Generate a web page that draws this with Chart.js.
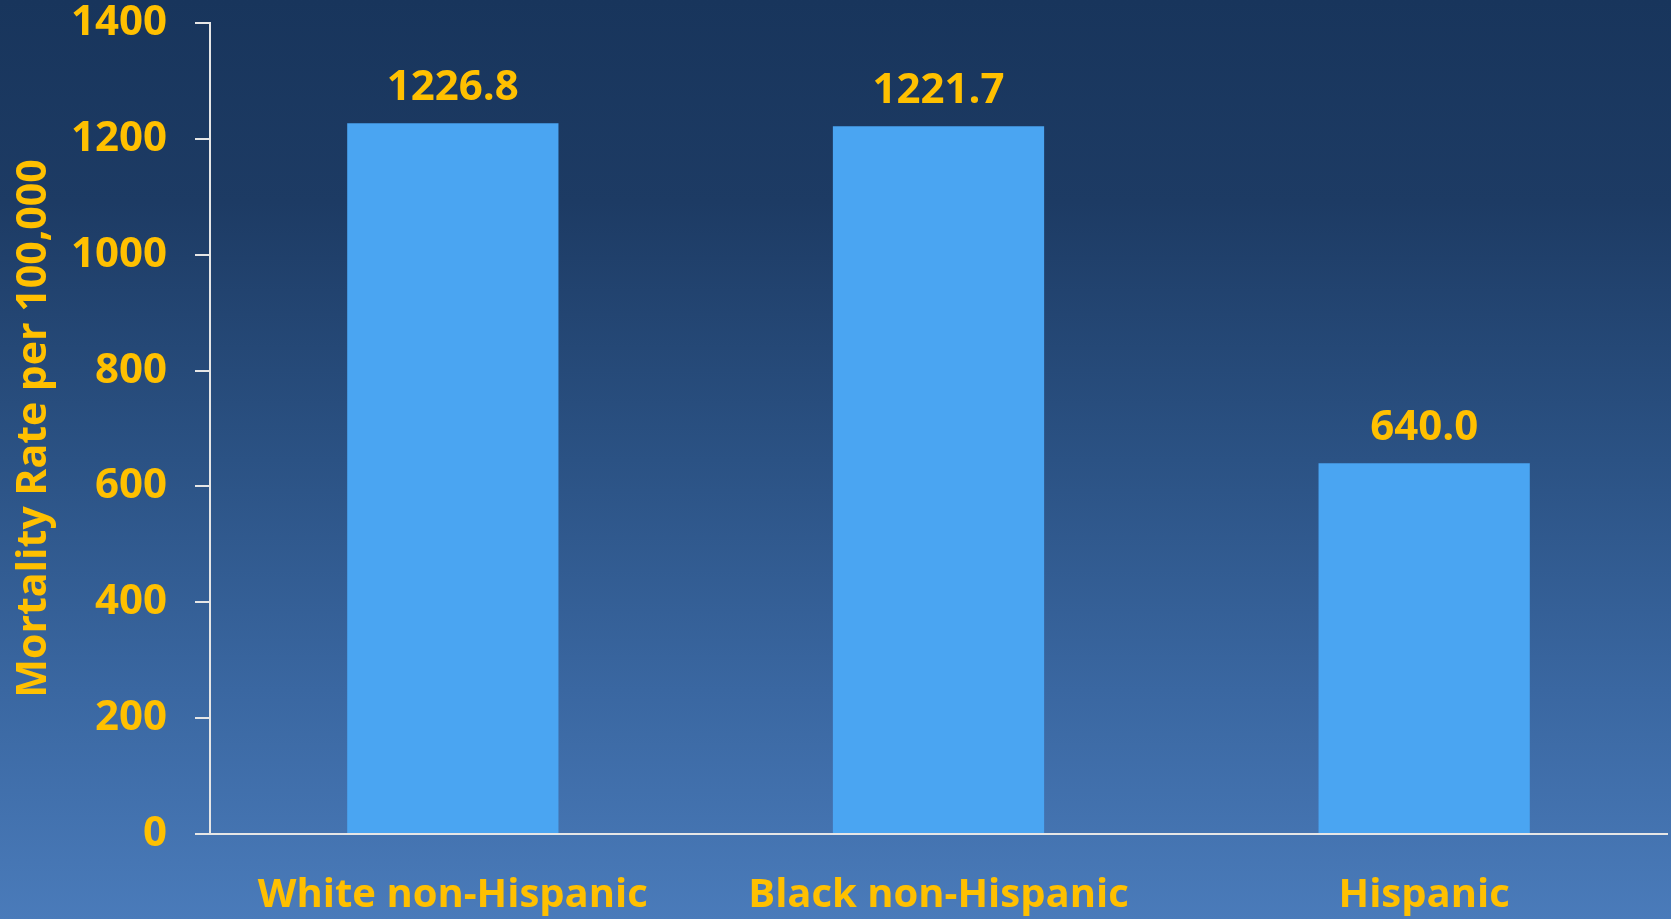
<!DOCTYPE html>
<html>
<head>
<meta charset="utf-8">
<script src="https://cdn.jsdelivr.net/npm/chart.js@4"></script>
<style>
  html, body {
    margin: 0;
    padding: 0;
    width: 1671px;
    height: 919px;
    overflow: hidden;
    background: linear-gradient(to bottom, #18355c 0%, #1d3b64 22%, #2b5284 50%, #3a67a1 75%, #4a7bba 100%);
  }
  #wrap { width: 1671px; height: 919px; position: relative; }
</style>
</head>
<body>
<div id="wrap"><canvas id="mortalityChart"></canvas></div>
<script>
const categories = ['White non-Hispanic', 'Black non-Hispanic', 'Hispanic'];
const mortalityRates = [1226.8, 1221.7, 640.0];
const yTicks = [0, 200, 400, 600, 800, 1000, 1200, 1400];

const gold = '#ffc000';
const fontFamily = '"Open Sans", "DejaVu Sans", sans-serif';

// draws the value above each bar
const valueLabels = {
    id: 'valueLabels',
    afterDatasetsDraw(chart) {
        const ctx = chart.ctx;
        const meta = chart.getDatasetMeta(0);
        ctx.save();
        ctx.fillStyle = gold;
        ctx.font = 'bold 42px ' + fontFamily;
        ctx.textAlign = 'center';
        ctx.textBaseline = 'alphabetic';
        meta.data.forEach(function (bar, i) {
            ctx.fillText(mortalityRates[i].toFixed(1), bar.x, bar.y - 23);
        });
        ctx.restore();
    }
};

document.addEventListener('DOMContentLoaded', function () {
    const ctx = document.getElementById('mortalityChart').getContext('2d');
    new Chart(ctx, {
        type: 'bar',
        data: {
            labels: categories,
            datasets: [
                {
                    label: 'Mortality Rate per 100,000',
                    data: mortalityRates,
                    backgroundColor: '#4aa5f2',
                    borderWidth: 0,
                    categoryPercentage: 1,
                    barPercentage: 0.435
                }
            ]
        },
        options: {
            responsive: true,
            maintainAspectRatio: false,
            animation: false,
            layout: {
                padding: { top: 23, right: 4, bottom: 0, left: 0 }
            },
            plugins: {
                legend: { display: false },
                tooltip: { enabled: false }
            },
            scales: {
                x: {
                    grid: { display: false },
                    border: { display: true, color: '#e6e6e6', width: 2 },
                    ticks: {
                        color: gold,
                        font: { family: fontFamily, size: 40, weight: 'bold' },
                        padding: 30,
                        maxRotation: 0
                    },
                    afterFit(scale) {
                        scale.height = 85;
                        scale.paddingLeft = 0;
                        scale.paddingRight = 0;
                    }
                },
                y: {
                    min: 0,
                    max: 1400,
                    afterBuildTicks(scale) {
                        scale.ticks = yTicks.map(function (v) { return { value: v }; });
                    },
                    grid: {
                        drawOnChartArea: false,
                        drawTicks: true,
                        tickLength: 15,
                        color: '#e6e6e6',
                        lineWidth: 2
                    },
                    border: { display: true, color: '#e6e6e6', width: 2 },
                    ticks: {
                        color: gold,
                        font: { family: fontFamily, size: 42, weight: 'bold' },
                        padding: 28,
                        callback: function (value) { return String(value); }
                    },
                    title: {
                        display: true,
                        text: 'Mortality Rate per 100,000',
                        color: gold,
                        font: { family: fontFamily, size: 41, weight: 'bold' },
                        padding: { top: 10, bottom: 0 }
                    },
                    afterFit(scale) {
                        scale.width = 210;
                        scale.paddingTop = 0;
                        scale.paddingBottom = 0;
                    }
                }
            }
        },
        plugins: [valueLabels]
    });
});
</script>
</body>
</html>
